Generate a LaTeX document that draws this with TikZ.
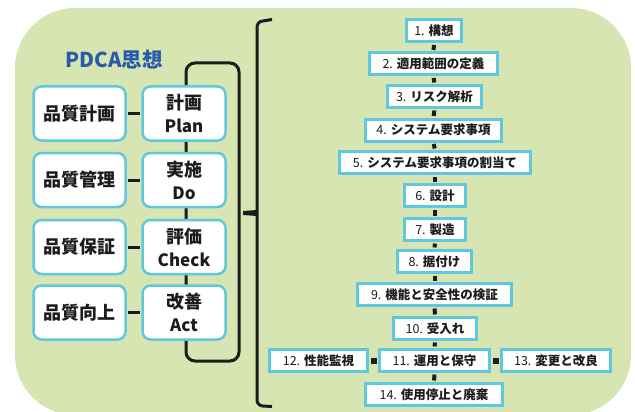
\documentclass[tikz,border=0pt]{standalone}
\usepackage{fontspec}
\setmainfont{Noto Sans CJK JP}
\definecolor{bg}{RGB}{214,229,177}
\definecolor{cyanb}{RGB}{96,200,222}
\definecolor{tblue}{RGB}{40,92,170}
\definecolor{ink}{RGB}{28,28,28}
\newcommand{\nm}[1]{{\mdseries #1.}\hspace{4pt}}
\begin{document}
\begin{tikzpicture}[x=1pt,y=-1pt,
 lbox/.style={draw=cyanb, line width=2.5pt, fill=white, rounded corners=8pt, minimum height=54pt, inner sep=0pt, text=ink, font=\fontsize{18}{23}\selectfont\bfseries, align=center},
 sbox/.style={draw=cyanb, line width=3pt, fill=white, minimum height=22pt, inner sep=0pt, text=ink, font=\fontsize{12.5}{14}\selectfont\bfseries},
 vlink/.style={line width=4pt, draw=ink, shorten <=1.5pt, shorten >=1.5pt},
 hlink/.style={line width=6pt, draw=ink, shorten <=1.5pt, shorten >=1.5pt},
 plink/.style={line width=3pt, draw=ink, shorten <=1.2pt, shorten >=1.2pt}
]
\useasboundingbox (0,0) rectangle (635,412);
\begin{scope}
\clip (0,0) rectangle (635,412);
\fill[bg, rounded corners=60pt] (15,8) rectangle (631,415);
\end{scope}

% PDCA loop
\draw[ink, line width=3pt, rounded corners=9pt] (186,63) rectangle (239,361);

% brace
\draw[ink, line width=3pt] (272,19.5) -- (263,21) to[out=180,in=90] (257,27) -- (257,400) to[out=-90,in=180] (263,406) -- (272,406.5);
\fill[ink] (243,211) -- (257,210) -- (257,216) -- (243,215) -- cycle;

% title
\node[font=\fontsize{20.5}{24}\selectfont\bfseries, text=tblue] (title) at (114,60) {PDCA思想};

% left boxes
\node[lbox, minimum width=92pt] (q1) at (79.5,113.5) {品質計画};
\node[lbox, minimum width=92pt] (q2) at (79.5,180) {品質管理};
\node[lbox, minimum width=92pt] (q3) at (79.5,247) {品質保証};
\node[lbox, minimum width=92pt] (q4) at (79.5,312.5) {品質向上};
\node[lbox, minimum width=83pt] (p1) at (184,113.5) {計画\\{\fontsize{17}{23}\selectfont Plan}};
\node[lbox, minimum width=83pt] (p2) at (184,180) {実施\\{\fontsize{17}{23}\selectfont Do}};
\node[lbox, minimum width=83pt] (p3) at (184,247) {評価\\{\fontsize{17}{23}\selectfont Check}};
\node[lbox, minimum width=83pt] (p4) at (184,312.5) {改善\\{\fontsize{17}{23}\selectfont Act}};
\draw[plink] (q1.east) -- (p1.west);
\draw[plink] (q2.east) -- (p2.west);
\draw[plink] (q3.east) -- (p3.west);
\draw[plink] (q4.east) -- (p4.west);

% chain
\node[sbox, minimum width=55pt] (c1) at (434,31) {\nm{1}構想};
\node[sbox, minimum width=128pt] (c2) at (433.5,64) {\nm{2}適用範囲の定義};
\node[sbox, minimum width=94pt] (c3) at (434.5,96.5) {\nm{3}リスク解析};
\node[sbox, minimum width=136pt] (c4) at (433.5,130) {\nm{4}システム要求事項};
\node[sbox, minimum width=191pt] (c5) at (435,162.5) {\nm{5}システム要求事項の割当て};
\node[sbox, minimum width=61pt] (c6) at (435,195.5) {\nm{6}設計};
\node[sbox, minimum width=61pt] (c7) at (435,229.5) {\nm{7}製造};
\node[sbox, minimum width=74pt] (c8) at (434.5,261.5) {\nm{8}据付け};
\node[sbox, minimum width=154pt] (c9) at (434.5,294.5) {\nm{9}機能と安全性の検証};
\node[sbox, minimum width=83pt] (c10) at (435,328.5) {\nm{10}受入れ};
\node[sbox, minimum width=110pt] (c11) at (434.5,360.5) {\nm{11}運用と保守};
\node[sbox, minimum width=98pt] (c12) at (318.5,360.5) {\nm{12}性能監視};
\node[sbox, minimum width=109pt] (c13) at (556,360.5) {\nm{13}変更と改良};
\node[sbox, minimum width=137pt] (c14) at (434,394.5) {\nm{14}使用停止と廃棄};

\draw[vlink] (c1.south) -- (c2.north);
\draw[vlink] (c2.south) -- (c3.north);
\draw[vlink] (c3.south) -- (c4.north);
\draw[vlink] (c4.south) -- (c5.north);
\draw[vlink] (c5.south) -- (c6.north);
\draw[vlink] (c6.south) -- (c7.north);
\draw[vlink] (c7.south) -- (c8.north);
\draw[vlink] (c8.south) -- (c9.north);
\draw[vlink] (c9.south) -- (c10.north);
\draw[vlink] (c10.south) -- (c11.north);
\draw[vlink] (c11.south) -- (c14.north);
\draw[hlink] (c12.east) -- (c11.west);
\draw[hlink] (c11.east) -- (c13.west);
\end{tikzpicture}
\end{document}
